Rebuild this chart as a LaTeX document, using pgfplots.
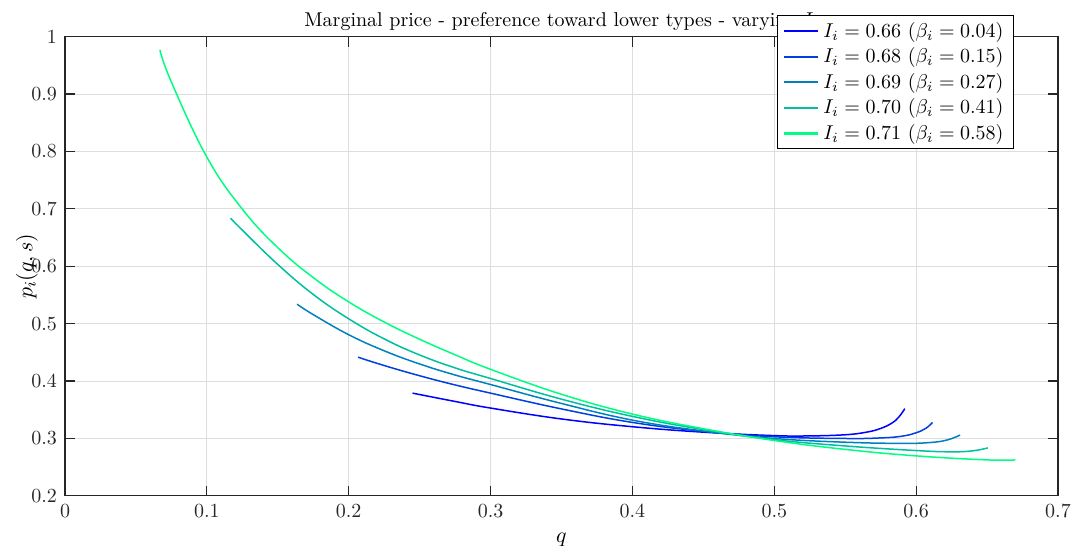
\documentclass[border=0pt]{standalone}
\usepackage{pgfplots}
\pgfplotsset{compat=1.18}

% MATLAB "winter" colormap, five samples
\definecolor{w1}{rgb}{0,0,1}
\definecolor{w2}{rgb}{0,0.25,0.875}
\definecolor{w3}{rgb}{0,0.5,0.75}
\definecolor{w4}{rgb}{0,0.75,0.625}
\definecolor{w5}{rgb}{0,1,0.5}
\definecolor{axgray}{rgb}{0.15,0.15,0.15}
\definecolor{gridgray}{rgb}{0.87,0.87,0.87}

\begin{document}
\begin{tikzpicture}
\begin{axis}[
  scale only axis,
  width=496.5pt, height=229.6pt,
  xmin=0, xmax=0.7, ymin=0.2, ymax=1,
  xtick={0,0.1,...,0.7}, ytick={0.2,0.3,...,1},
  /pgf/number format/.cd, fixed, precision=1, /pgfplots/.cd,
  tick align=inside, tick pos=both,
  major tick length=5pt,
  every tick/.style={axgray, line width=0.6pt},
  axis line style={axgray, line width=0.6pt},
  grid=major,
  major grid style={gridgray, line width=0.5pt},
  tick label style={font=\fontsize{10}{12}\selectfont, text=axgray},
  xticklabel style={yshift=-1pt},
  yticklabel style={xshift=-0.5pt},
  title={Marginal price - preference toward lower types - varying $I_i$},
  every axis title/.style={at={(axis description cs:0.5,1)}, anchor=base,
    yshift=5pt, font=\fontsize{10}{12}\selectfont},
  xlabel={$q$},
  ylabel={$p_i(q,s)$},
  label style={font=\fontsize{11}{13}\selectfont},
  x label style={at={(axis description cs:0.5,0)}, anchor=north, yshift=-15pt},
  y label style={at={(axis description cs:-0.027,0.5)}, anchor=south, inner sep=0pt},
  legend style={at={(axis description cs:0.9557,1.047)}, anchor=north east,
    draw=black, fill=white, line width=0.5pt,
    font=\fontsize{10}{12}\selectfont, row sep=-0.2pt,
    inner xsep=3pt, inner ysep=1.2pt},
  legend cell align=left,
  legend image code/.code={\draw[#1, line width=1.1pt, sharp plot]
    (0cm,0cm) -- (0.6cm,0cm);},
  every axis plot/.append style={line width=0.75pt, smooth, tension=0.7},
]
\addplot[w1] coordinates {
  (0.245,0.379) (0.275,0.3645) (0.3,0.353) (0.35,0.334) (0.4,0.3205)
  (0.45,0.311) (0.5,0.305) (0.525,0.3045) (0.55,0.3065) (0.565,0.311)
  (0.575,0.3175) (0.583,0.327) (0.588,0.338) (0.592,0.352)};
\addlegendentry{$I_i = 0.66$ ($\beta_i = 0.04$)}

\addplot[w2] coordinates {
  (0.2066,0.4416) (0.225,0.4271) (0.25,0.4093) (0.275,0.3933) (0.3,0.379)
  (0.35,0.3515) (0.4,0.328) (0.45,0.3125) (0.5,0.303) (0.55,0.300)
  (0.575,0.301) (0.59,0.304) (0.6,0.310) (0.607,0.318) (0.6115,0.328)};
\addlegendentry{$I_i = 0.68$ ($\beta_i = 0.15$)}

\addplot[w3] coordinates {
  (0.1636,0.534) (0.175,0.5158) (0.2,0.4808) (0.225,0.4528) (0.25,0.4298)
  (0.275,0.4106) (0.3,0.394) (0.35,0.361) (0.4,0.332) (0.45,0.313)
  (0.5,0.300) (0.55,0.2935) (0.59,0.2915) (0.61,0.293) (0.622,0.2975)
  (0.631,0.306)};
\addlegendentry{$I_i = 0.69$ ($\beta_i = 0.27$)}

\addplot[w4] coordinates {
  (0.1167,0.6838) (0.125,0.663) (0.15,0.6032) (0.175,0.551) (0.2,0.5085)
  (0.225,0.4735) (0.25,0.4455) (0.275,0.423) (0.3,0.4045) (0.35,0.3685)
  (0.4,0.3385) (0.45,0.3155) (0.5,0.298) (0.55,0.287) (0.6,0.279)
  (0.625,0.2768) (0.64,0.2785) (0.6505,0.2836)};
\addlegendentry{$I_i = 0.70$ ($\beta_i = 0.41$)}

\addplot[w5] coordinates {
  (0.0669,0.977) (0.075,0.9209) (0.1,0.7902) (0.125,0.6996) (0.15,0.6325)
  (0.175,0.5803) (0.2,0.538) (0.225,0.5029) (0.25,0.4729) (0.275,0.4458)
  (0.3,0.4205) (0.35,0.377) (0.4,0.3425) (0.45,0.317) (0.5,0.2965)
  (0.55,0.281) (0.6,0.2697) (0.65,0.2627) (0.67,0.2627)};
\addlegendentry{$I_i = 0.71$ ($\beta_i = 0.58$)}
\end{axis}
\path (current axis.south west) ++(-32.5pt,-25pt) coordinate (bbsw);
\path (current axis.north east) ++(10pt,18.35pt) coordinate (bbne);
\pgfresetboundingbox
\path[use as bounding box] (bbsw) rectangle (bbne);
\end{tikzpicture}
\end{document}
